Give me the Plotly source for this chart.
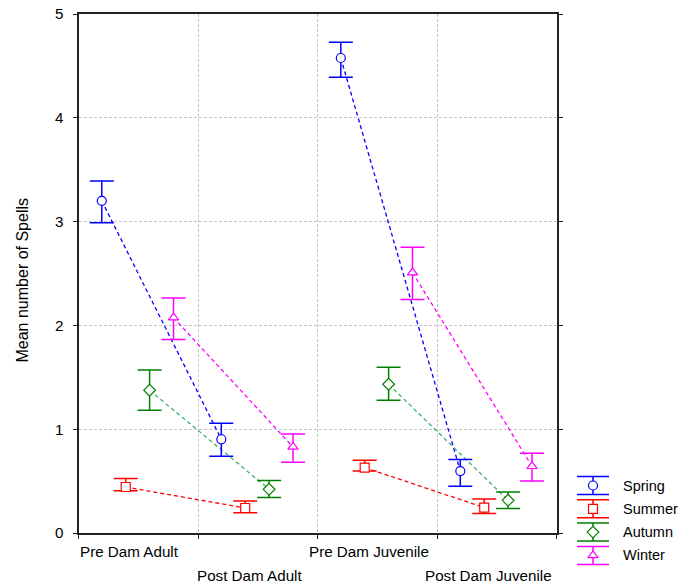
import plotly.graph_objects as go

W, H = 693, 584
categories = ["Pre Dam Adult", "Post Dam Adult", "Pre Dam Juvenile", "Post Dam Juvenile"]
seasons = ["Spring", "Summer", "Autumn", "Winter"]

# means and error bar bounds (upper/lower) per season, per category
spring_mean = [3.20, 0.903, 4.576, 0.597]
spring_hi = [3.39, 1.057, 4.727, 0.707]
spring_lo = [2.99, 0.739, 4.39, 0.45]

summer_mean = [0.443, 0.241, 0.63, 0.245]
summer_hi = [0.524, 0.308, 0.70, 0.328]
summer_lo = [0.408, 0.196, 0.597, 0.187]

autumn_mean = [1.375, 0.421, 1.433, 0.315]
autumn_hi = [1.57, 0.505, 1.597, 0.395]
autumn_lo = [1.182, 0.341, 1.279, 0.235]

winter_mean = [2.075, 0.829, 2.509, 0.643]
winter_hi = [2.264, 0.954, 2.752, 0.768]
winter_lo = [1.863, 0.681, 2.249, 0.501]

y_ticks = [0, 1, 2, 3, 4, 5]

means = [spring_mean, summer_mean, autumn_mean, winter_mean]
his = [spring_hi, summer_hi, autumn_hi, winter_hi]
los = [spring_lo, summer_lo, autumn_lo, winter_lo]

colors = ["#0000ff", "#ff0000", "#008000", "#ff00ff"]
line_colors = ["#0000ff", "#ff0000", "#3cb371", "#ff00ff"]
symbols = ["circle", "square", "diamond", "triangle-up"]
offsets = [0.195, 0.395, 0.595, 0.795]

FONT = "Liberation Sans, Arial, sans-serif"

# page body margin is removed below, so figure pixels == page pixels
BODY = 0
# plot area in page pixels
PL, PR, PT, PB = 78.5, 556.5, 14, 533


def px_x(p):
    return (p - BODY) / W


def px_y(p):
    return (H - (p - BODY)) / H


fig = go.Figure()

for s in range(4):
    xs = [i + offsets[s] for i in range(4)]
    m = means[s]
    # dashed connectors: Pre -> Post within Adult and Juvenile
    fig.add_trace(go.Scatter(
        x=[xs[0], xs[1], None, xs[2], xs[3]],
        y=[m[0], m[1], None, m[2], m[3]],
        mode="lines", line=dict(color=line_colors[s], width=1.3, dash="4px,3px"),
        showlegend=False, hoverinfo="skip", xaxis="x", yaxis="y"))

for s in range(4):
    xs = [i + offsets[s] for i in range(4)]
    m = means[s]
    plus = [h - v for h, v in zip(his[s], m)]
    minus = [v - l for v, l in zip(m, los[s])]
    fig.add_trace(go.Scatter(
        x=xs, y=m, mode="markers", name=seasons[s],
        marker=dict(symbol=symbols[s], size=9, color="white",
                    line=dict(color=colors[s], width=1.2)),
        error_y=dict(type="data", symmetric=False, array=plus, arrayminus=minus,
                     color=colors[s], thickness=1.5, width=12),
        showlegend=False, xaxis="x", yaxis="y"))

# custom legend (error-bar glyph + marker) on a pixel-scaled helper axis
LEG_X = 593
LEG_Y0 = 485.5
LEG_DY = 23.3
LX0, LX1, LY0, LY1 = 565, 690, 465, 580
for s in range(4):
    fig.add_trace(go.Scatter(
        x=[LEG_X], y=[LEG_Y0 + s * LEG_DY], mode="markers",
        marker=dict(symbol=symbols[s], size=9, color="white",
                    line=dict(color=colors[s], width=1.2)),
        error_y=dict(type="constant", value=9, color=colors[s], thickness=1.5, width=16),
        showlegend=False, hoverinfo="skip", xaxis="x2", yaxis="y2"))
    fig.add_annotation(x=LEG_X + 28, y=LEG_Y0 + s * LEG_DY, xref="x2", yref="y2",
                       text=seasons[s], showarrow=False, xanchor="left", yanchor="middle",
                       font=dict(family=FONT, size=14.5, color="black"))

# category labels (staggered)
for i, c in enumerate(categories):
    row_y = 551.5 if i % 2 == 0 else 575.5
    fig.add_annotation(x=i + 0.43, y=px_y(row_y), xref="x", yref="paper",
                       text=c, showarrow=False, xanchor="center", yanchor="middle",
                       font=dict(family=FONT, size=15.2, color="black"))

fig.add_annotation(x=px_x(21.5), y=px_y(280), xref="paper", yref="paper",
                   text="Mean number of Spells", textangle=-90, showarrow=False,
                   xanchor="center", yanchor="middle",
                   font=dict(family=FONT, size=16, color="black"))

grid = dict(gridcolor="#c4c4c4", gridwidth=1, griddash="3px,2px")
fig.update_layout(
    template="none",
    width=W, height=H,
    margin=dict(l=0, r=0, t=0, b=0, pad=0, autoexpand=False),
    paper_bgcolor="white", plot_bgcolor="white",
    font=dict(family=FONT, size=15.2, color="black"),
    showlegend=False,
    xaxis=dict(domain=[px_x(PL), px_x(PR)], range=[0, 4], tickvals=[0, 1, 2, 3, 4],
               ticktext=["", "", "", "", ""], showgrid=True, zeroline=False,
               showline=True, linecolor="#222222", linewidth=2, mirror=True,
               ticks="outside", ticklen=4, tickcolor="#222222", anchor="y",
               automargin=False, **grid),
    yaxis=dict(domain=[px_y(PB), px_y(PT)], range=[0, 5], tickvals=y_ticks,
               showgrid=True, zeroline=False, showline=True, linecolor="#222222",
               linewidth=2, mirror="ticks", ticks="outside", ticklen=4,
               tickcolor="#222222", anchor="x", ticklabelstandoff=6, automargin=False,
               ticklabeloverflow="allow",
               tickfont=dict(family=FONT, size=15.2), **grid),
    xaxis2=dict(domain=[px_x(LX0), px_x(LX1)], range=[LX0, LX1], visible=False,
                anchor="y2", fixedrange=True, automargin=False),
    yaxis2=dict(domain=[px_y(LY1), px_y(LY0)], range=[LY1, LY0], visible=False,
                anchor="x2", fixedrange=True, automargin=False),
)

fig.write_html("out.html", config={"displayModeBar": False},
               post_script="document.body.style.margin='0';")
